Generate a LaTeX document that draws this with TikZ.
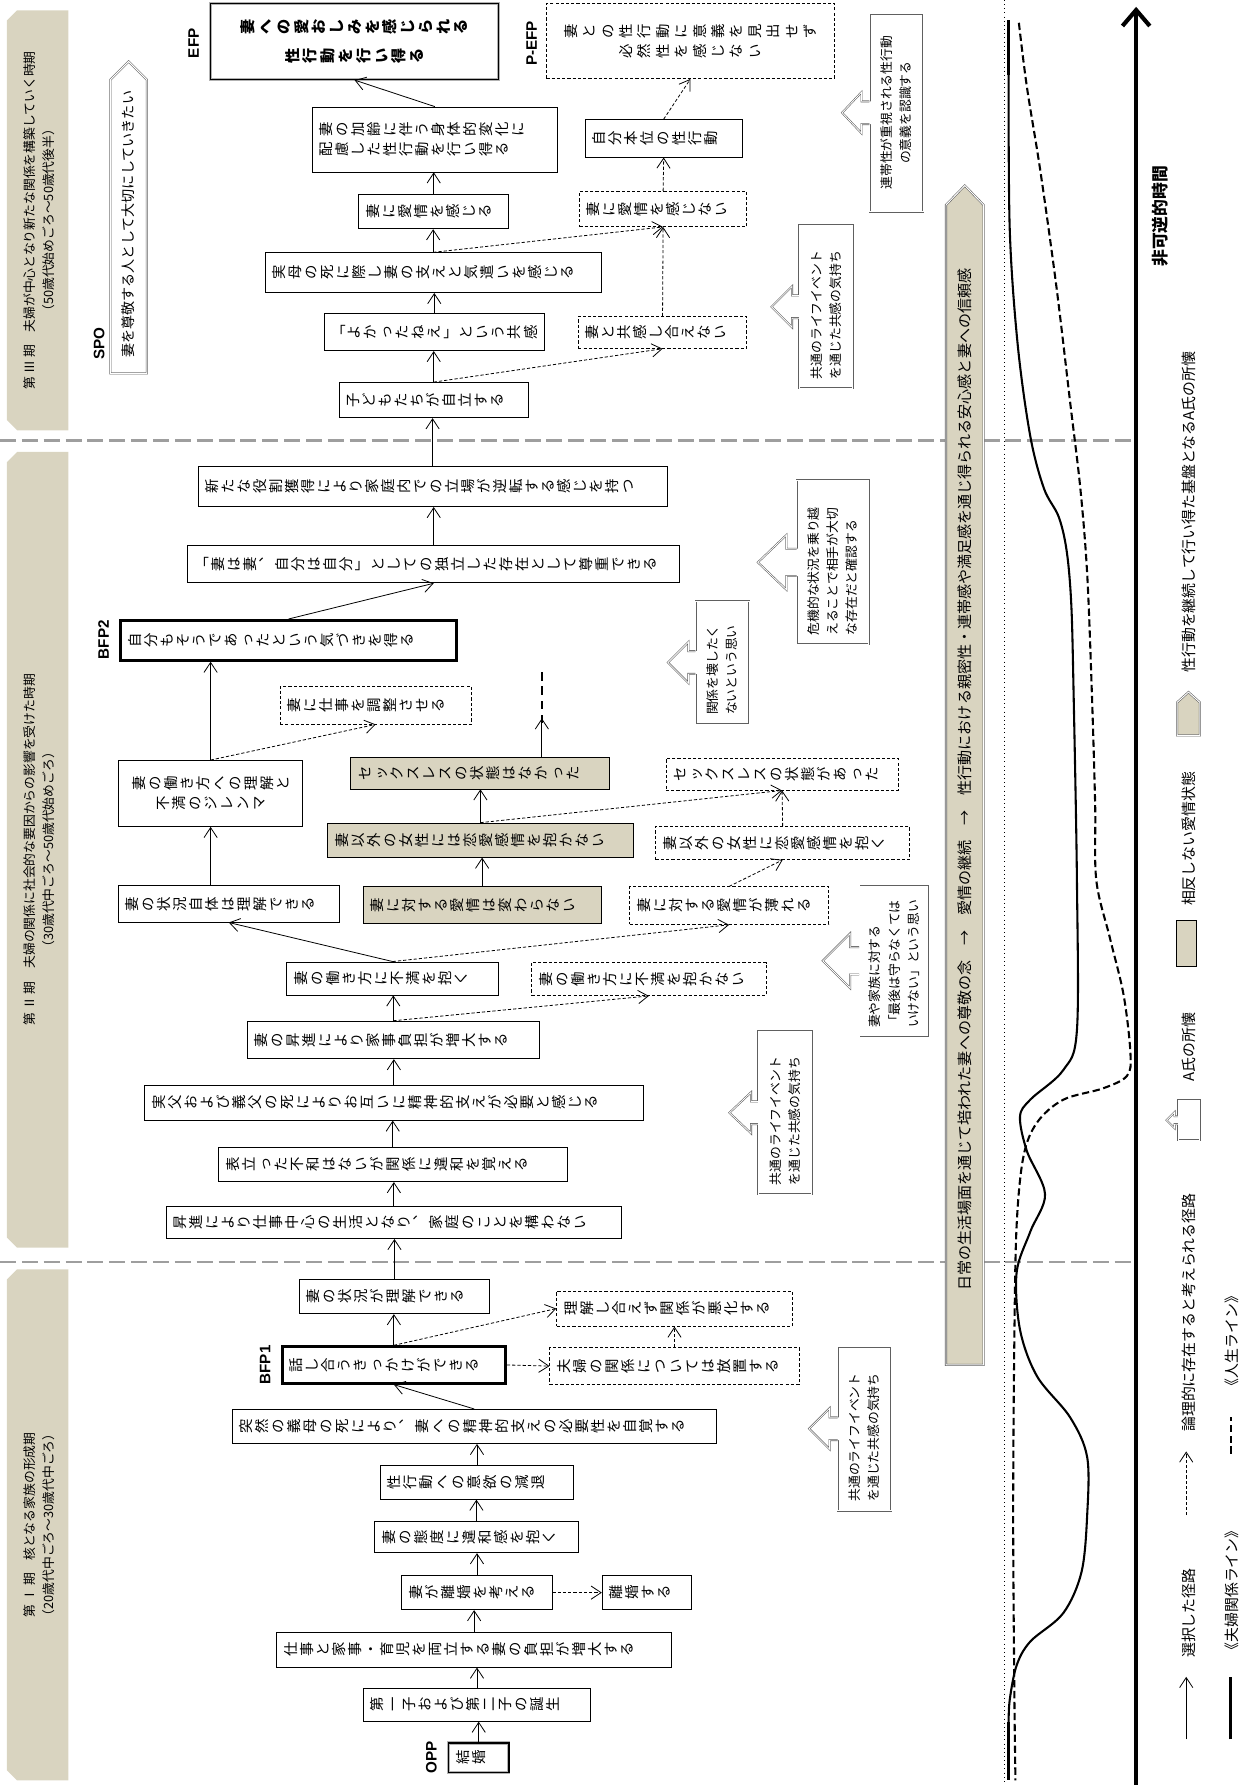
\documentclass[tikz,border=0pt]{standalone}
\usepackage{fontspec}
\setmainfont{Noto Sans CJK JP}
\newfontfamily\labfont{Liberation Sans}
\usepackage{graphicx}
\usetikzlibrary{arrows.meta}

\definecolor{beige}{RGB}{217,212,192}
\definecolor{sepgray}{RGB}{158,158,158}

% vertical writing, page turned: every letter turned a quarter left
\newlength\tategap
\setlength\tategap{1pt}
\ExplSyntaxOn
\tl_const:Nn \c_tate_upright_tl {「」}
\NewDocumentCommand\tate{m}
  {
    \mbox
      {
        \tl_map_inline:nn {#1}
          {
            \tl_if_in:NnTF \c_tate_upright_tl {##1}
              { \makebox[1em][c]{##1} }
              { \rotatebox[origin=c]{90}{\makebox[1em][c]{\rule[-0.12em]{0pt}{1em}##1}} }
            \hspace{\tategap}
          }
        \hspace{-\tategap}
      }
  }
\ExplSyntaxOff

\newcommand\boxfont{\fontsize{9}{12.5}\selectfont\setlength\tategap{1pt}}
\newcommand\efpfont{\fontsize{9.5}{17.8}\selectfont\bfseries\setlength\tategap{1.6pt}}
\newcommand\pefpfont{\fontsize{9}{12.5}\selectfont\setlength\tategap{2.5pt}}

% arrow of a callout (shokai), drawn on the page-left side of a turned node
\newcommand\shokai[5]{% node, head half, stem half, head length, stem length
  \fill[white] (#1.north) ++(3,-#3) -- ++(-3-#5,0) -- ++(0,-#2+#3)
    -- ++(-#4,#2) -- ++(#4,#2) -- ++(0,-#2+#3) -- ++(3+#5,0) -- cycle;
  \draw[shokailine] (#1.north) ++(0,-#3) -- ++(-#5,0) -- ++(0,-#2+#3)
    -- ++(-#4,#2) -- ++(#4,#2) -- ++(0,-#2+#3) -- ++(#5,0);
}

\tikzset{
  box/.style={draw, line width=0.5pt, inner xsep=1.5mm, inner ysep=0pt, align=left, font=\boxfont},
  pbox/.style={box, dash pattern=on 0.7mm off 0.45mm},
  gbox/.style={box, fill=beige},
  bfpbox/.style={box, line width=1.8pt},
  efpbox/.style={box, draw=gray!60, double=black, double distance=0.9pt, line width=0.55pt},
  bw/.code={\pgfmathsetlengthmacro\bwtmp{#1*0.25mm-3mm}\edef\bwdo{\noexpand\tikzset{text width=\bwtmp}}\bwdo},
  cw/.code={\pgfmathsetlengthmacro\cwtmp{#1*0.25mm-4mm}\edef\cwdo{\noexpand\tikzset{text width=\cwtmp}}\cwdo},
  bh/.code={\pgfmathsetlengthmacro\bhtmp{#1*0.25mm}\edef\bhdo{\noexpand\tikzset{minimum height=\bhtmp}}\bhdo},
  sel/.style={-{Straight Barb[length=2.2mm,width=2.9mm]}, line width=0.5pt},
  maybe/.style={sel, dash pattern=on 0.7mm off 0.45mm},
  lab/.style={rotate=90, inner sep=0pt, font=\labfont\bfseries\fontsize{9.5}{11}\selectfont},
  rtext/.style={rotate=90, inner sep=0pt, align=center},
  shokaibox/.style={rotate=90, draw=gray!75!black, double, double distance=0.5pt, line width=0.35pt,
    fill=white, inner xsep=2mm, inner ysep=0pt, align=left, font=\fontsize{8}{12}\selectfont},
  shokailine/.style={draw=gray!75!black, double, double distance=0.5pt, line width=0.35pt},
  penta/.style={draw=gray!75!black, double, double distance=0.6pt, line width=0.35pt},
  periodsep/.style={sepgray, line width=1.5pt, dash pattern=on 3.5mm off 1.3mm},
  kline/.style={line width=1.3pt},
  jline/.style={line width=1.3pt, dash pattern=on 1.6mm off 0.8mm},
  timeaxis/.style={line width=2.6pt, -{Straight Barb[length=3.5mm,width=6mm]}},
  legfont/.style={font=\fontsize{9.3}{11}\selectfont}
}

\begin{document}
\begin{tikzpicture}[x=0.25mm, y=-0.25mm]
\useasboundingbox (0,0) rectangle (1092,1568);

% period tabs
\fill[beige] (6,18) -- (15,9) -- (60,9) -- (60,378) -- (15,378) -- (6,369) -- cycle;
\fill[beige] (6,406) -- (15,397) -- (60,397) -- (60,1096) -- (15,1096) -- (6,1087) -- cycle;
\fill[beige] (6,1124) -- (15,1115) -- (60,1115) -- (60,1564) -- (15,1564) -- (6,1555) -- cycle;
\node[rtext, font=\fontsize{8}{12}\selectfont] (periodthree) at (34.5,193.5) {第 Ⅲ 期　夫婦が中心となり新たな関係を構築していく時期\\（50歳代始めごろ～50歳代後半）};
\node[rtext, font=\fontsize{8}{12}\selectfont] (periodtwo) at (34.5,746.5) {第 Ⅱ 期　夫婦の関係に社会的な要因からの影響を受けた時期\\（30歳代中ごろ～50歳代始めごろ）};
\node[rtext, font=\fontsize{8}{12}\selectfont] (periodone) at (34.5,1339.5) {第 Ⅰ 期　核となる家族の形成期\\（20歳代中ごろ～30歳代中ごろ）};

\draw[periodsep] (0,387) -- (998,387);
\draw[periodsep] (0,1108.6) -- (998,1108.6);

% lines of the couple and of life
\draw[dotted, line width=0.6pt] (882,0) -- (882,1568);
\draw[kline] plot[smooth, tension=0.55] coordinates {(886,66) (887,202) (894,303) (905,383) (917,429) (930,454) (937,484) (941,530) (943,605) (946,773) (946,905) (934,940) (905,966) (896,981) (902,1011) (918,1049) (905,1082) (893,1118) (896,1168) (911,1209) (940,1245) (955,1280) (955,1331) (950,1381) (934,1417) (905,1442) (893,1463) (887,1493) (886,1513)};
\draw[line width=2.2pt] (886,18) -- (886,66);
\draw[line width=2.2pt] (886,1513) -- (886,1564);
\draw[jline] plot[smooth, tension=0.55] coordinates {(895,20) (902,76) (914,151) (928,252) (940,353) (949,429) (955,504) (959,605) (962,706) (963,773) (975,824) (987,874) (993,925) (990,945) (969,956) (934,966) (911,986) (899,1016) (893,1077) (891,1179) (890,1331) (891,1483) (892,1564)};

\coordinate (axisbot) at (998,1568);
\coordinate (axistop) at (998,6);
\draw[timeaxis] (axisbot) -- (axistop);
\node[rtext, font=\fontsize{10.5}{12}\selectfont\bfseries] (timelabel) at (1019,190) {非可逆的時間};

% banner
\draw[penta, fill=beige] (831,1199) -- (831,180) -- (847.5,163) -- (864,180) -- (864,1199) -- cycle;
\node[rtext, font=\fontsize{9.4}{11}\selectfont] (bannertext) at (847.5,685) {日常の生活場面を通じて培われた妻への尊敬の念　→　愛情の継続　→　性行動における親密性・連帯感や満足感を通じ得られる安心感と妻への信頼感};

% SPO
\draw[penta, fill=white] (97,328) -- (97,70) -- (113,54) -- (129,70) -- (129,328) -- cycle;
\node[rtext, font=\fontsize{8.8}{11}\selectfont] (spotext) at (113,197) {妻を尊敬する人として大切にしていきたい};

% period I
\node[efpbox, bw=53, bh=26] (kekkon) at (420.5,1544) {\tate{結婚}};
\node[box, bw=200, bh=29] (daiichi) at (419,1497.5) {\tate{第一子および第二子の誕生}};
\node[box, bw=347, bh=31] (shigoto) at (416.5,1449) {\tate{仕事と家事・育児を両立する妻の負担が増大する}};
\node[box, bw=132, bh=30] (kangae) at (419,1399) {\tate{妻が離婚を考える}};
\node[box, bw=78, bh=30] (rikon) at (568,1399) {\tate{離婚する}};
\node[box, bw=179, bh=28] (taido) at (418.5,1350) {\tate{妻の態度に違和感を抱く}};
\node[box, bw=170, bh=30] (iyoku) at (419,1302) {\tate{性行動への意欲の減退}};
\node[box, bw=425, bh=30] (totsuzen) at (416.5,1253) {\tate{突然の義母の死により︑妻への精神的支えの必要性を自覚する}};
\node[bfpbox, bw=196, bh=32] (bfpone) at (346,1199) {\tate{話し合うきっかけができる}};
\node[pbox, bw=219, bh=32] (houchi) at (592.5,1200) {\tate{夫婦の関係については放置する}};
\node[pbox, bw=207, bh=31] (akka) at (592.5,1149.5) {\tate{理解し合えず関係が悪化する}};
\node[box, bw=167, bh=30] (rikai) at (346.5,1139) {\tate{妻の状況が理解できる}};

% period II
\node[box, bw=400, bh=28] (shoushin) at (346,1074) {\tate{昇進により仕事中心の生活となり︑家庭のことを構わない}};
\node[box, bw=306, bh=30] (omote) at (345,1023) {\tate{表立った不和はないが関係に違和を覚える}};
\node[box, bw=438, bh=31] (jippu) at (346,968.5) {\tate{実父および義父の死によりお互いに精神的支えが必要と感じる}};
\node[box, bw=257, bh=33] (tshoushin) at (345.5,913.5) {\tate{妻の昇進により家事負担が増大する}};
\node[box, bw=186, bh=29] (fuman) at (345,859.5) {\tate{妻の働き方に不満を抱く}};
\node[pbox, bw=206, bh=29] (fumannai) at (570,860) {\tate{妻の働き方に不満を抱かない}};
\node[box, bw=194, bh=32] (jikyou) at (201,794) {\tate{妻の状況自体は理解できる}};
\node[gbox, bw=209, bh=32] (kawaranai) at (423.5,795) {\tate{妻に対する愛情は変わらない}};
\node[pbox, bw=175, bh=33] (usureru) at (640.5,795.5) {\tate{妻に対する愛情が薄れる}};
\node[gbox, bw=268, bh=30] (igainai) at (422,738) {\tate{妻以外の女性には恋愛感情を抱かない}};
\node[pbox, bw=223, bh=29] (igaiaru) at (687.5,740.5) {\tate{妻以外の女性に恋愛感情を抱く}};
\node[box, bw=162, bh=58, align=center] (jirenma) at (185,697) {\tate{妻の働き方への理解と}\\\tate{不満のジレンマ}};
\node[gbox, bw=227, bh=28] (nakatta) at (421.5,679) {\tate{セックスレスの状態はなかった}};
\node[pbox, bw=204, bh=28] (atta) at (687,680) {\tate{セックスレスの状態があった}};
\node[pbox, bw=168, bh=33] (chousei) at (330,619.5) {\tate{妻に仕事を調整させる}};
\node[bfpbox, bw=295, bh=35] (bfptwo) at (253.5,562.5) {\tate{自分もそうであったという気づきを得る}};
\node[box, bw=432, bh=33] (dokuritsu) at (381,495.5) {\tate{「妻は妻︑自分は自分」としての独立した存在として尊重できる}};
\node[box, bw=412, bh=35] (aratana) at (380,427.5) {\tate{新たな役割獲得により家庭内での立場が逆転する感じを持つ}};

% period III
\node[box, bw=166, bh=31] (jiritsu) at (381,351.5) {\tate{子どもたちが自立する}};
\node[box, bw=193, bh=33] (yokatta) at (381.5,291.5) {\tate{「よかったねえ」という共感}};
\node[box, bw=295, bh=35] (jitsubo) at (380.5,239.5) {\tate{実母の死に際し妻の支えと気遣いを感じる}};
\node[box, bw=132, bh=30] (aijou) at (381,186) {\tate{妻に愛情を感じる}};
\node[box, bw=216, bh=57] (karei) at (382,122.5) {\tate{妻の加齢に伴う身体的変化に}\\\tate{配慮した性行動を行い得る}};
\node[efpbox, bw=253, bh=67, align=center, font=\efpfont] (efp) at (311.5,36.5) {\tate{妻への愛おしみを感じられる}\\\tate{性行動を行い得る}};
\node[pbox, bw=148, bh=28] (kyoukannai) at (582,292) {\tate{妻と共感し合えない}};
\node[pbox, bw=147, bh=31] (aijounai) at (582.5,183.5) {\tate{妻に愛情を感じない}};
\node[box, bw=138, bh=33] (jibun) at (583,121.5) {\tate{自分本位の性行動}};
\node[pbox, bw=253, bh=66, align=center, font=\pefpfont] (pefp) at (606.5,36) {\tate{妻との性行動に意義を見出せず}\\\tate{必然性を感じない}};

% labels
\node[lab] (opp) at (379,1544) {OPP};
\node[lab] (bfponelab) at (233,1199) {BFP1};
\node[lab] (bfptwolab) at (91,562) {BFP2};
\node[lab] (spolab) at (87,302) {SPO};
\node[lab] (efplab) at (170,38) {EFP};
\node[lab] (pefplab) at (467,38) {P-EFP};

% Connections
%% period I
\draw[sel] (kekkon.north) -- (kekkon.north |- daiichi.south);
\draw[sel] (daiichi.north) -- (daiichi.north |- shigoto.south);
\draw[sel] (shigoto.north) -- (shigoto.north |- kangae.south);
\draw[sel] (kangae.north) -- (kangae.north |- taido.south);
\draw[sel] (taido.north) -- (taido.north |- iyoku.south);
\draw[sel] (iyoku.north) -- (iyoku.north |- totsuzen.south);
\draw[sel] (totsuzen.north) -- (bfpone.south);
\draw[sel] (bfpone.north) -- (bfpone.north |- rikai.south);
\draw[sel] (rikai.north) -- (rikai.north |- shoushin.south);
\draw[maybe] (kangae.east) -- (rikon.west);
\draw[maybe] (bfpone.east) -- (houchi.west);
\draw[maybe] (bfpone.north) -- (akka.west);
\draw[maybe] (houchi.north) -- (akka.south);
%% period II
\draw[sel] (shoushin.north) -- (shoushin.north |- omote.south);
\draw[sel] (omote.north) -- (omote.north |- jippu.south);
\draw[sel] (jippu.north) -- (jippu.north |- tshoushin.south);
\draw[sel] (tshoushin.north) -- (tshoushin.north |- fuman.south);
\draw[sel] (fuman.north) -- (jikyou.south);
\draw[sel] (jirenma.south |- jikyou.north) -- (jirenma.south);
\draw[sel] (jirenma.north) -- (jirenma.north |- bfptwo.south);
\draw[sel] (bfptwo.north) -- (dokuritsu.south);
\draw[sel] (dokuritsu.north) -- (dokuritsu.north |- aratana.south);
\draw[sel] (aratana.north) -- (aratana.north |- jiritsu.south);
\draw[maybe] (tshoushin.north) -- (fumannai.south);
\draw[maybe] (fuman.north) -- (usureru.south);
\draw[maybe] (usureru.north) -- (igaiaru.south);
\draw[maybe] (igaiaru.north) -- (atta.south);
\draw[maybe] (igainai.north) -- (atta.south);
\draw[maybe] (jirenma.north) -- (chousei.south);
\draw[sel] (kawaranai.north) -- (kawaranai.north |- igainai.south);
\draw[sel] (igainai.north) -- (igainai.north |- nakatta.south);
\coordinate (contA) at (476,631);
\coordinate (contB) at (476,590);
\draw[sel] (contA |- nakatta.north) -- (contA);
\draw[line width=0.8pt, dash pattern=on 1.8mm off 1.3mm] ([yshift=-1mm]contA) -- (contB);
%% period III
\draw[sel] (jiritsu.north) -- (jiritsu.north |- yokatta.south);
\draw[sel] (yokatta.north) -- (yokatta.north |- jitsubo.south);
\draw[sel] (jitsubo.north) -- (jitsubo.north |- aijou.south);
\draw[sel] (aijou.north) -- (aijou.north |- karei.south);
\draw[sel] (karei.north) -- (efp.south);
\draw[maybe] (jiritsu.north) -- (kyoukannai.south);
\draw[maybe] (jitsubo.north) -- (aijounai.south);
\draw[maybe] (kyoukannai.north) -- (aijounai.south);
\draw[maybe] (aijounai.north) -- (jibun.south);
\draw[maybe] (jibun.north) -- (pefp.south);

% callouts
\node[shokaibox, cw=174, bh=47, align=center] (renta) at (787.5,99) {連帯性が重視される性行動\\の意義を認識する};
\shokai{renta}{18}{10}{17}{7}
\node[shokaibox, cw=143, bh=47] (kyotsuthree) at (725.5,269.5) {共通のライフイベント\\を通じた共感の気持ち};
\shokai{kyotsuthree}{18}{10}{18}{6}
\node[shokaibox, cw=144, bh=63] (kiki) at (731.5,494) {危機的な状況を乗り越\\えることで相手が大切\\な存在だと確認する};
\shokai{kiki}{24}{12}{25}{9}
\node[shokaibox, cw=108, bh=47] (kowasu) at (634.5,582) {関係を壊したく\\ないという思い};
\shokai{kowasu}{18}{10}{18}{6}
\node[shokaibox, cw=134, bh=61] (kazoku) at (785.5,844) {妻や家族に対する\\「最後は守らなくては\\いけない」という思い};
\shokai{kazoku}{24}{12}{24}{8}
\node[shokaibox, cw=143, bh=47] (kyotsutwo) at (689.5,977.5) {共通のライフイベント\\を通じた共感の気持ち};
\shokai{kyotsutwo}{18}{10}{19}{6}
\node[shokaibox, cw=144, bh=47] (kyotsuone) at (759.5,1255) {共通のライフイベント\\を通じた共感の気持ち};
\shokai{kyotsuone}{18}{10}{18}{7}

% legend
\coordinate (legselA) at (1042,1528);
\coordinate (legselB) at (1042,1473);
\draw[sel] (legselA) -- (legselB);
\node[rtext, legfont] (legsel) at (1044,1417) {選択した径路};
\coordinate (legmayA) at (1042,1331);
\coordinate (legmayB) at (1042,1275);
\draw[maybe] (legmayA) -- (legmayB);
\node[rtext, legfont] (legmay) at (1044,1153) {論理的に存在すると考えられる径路};
\node[shokaibox, minimum width=8.75mm, minimum height=4.75mm, inner sep=0pt] (iconA) at (1044.5,984) {};
\shokai{iconA}{7}{3.5}{7}{3}
\node[rtext, legfont] (legshokai) at (1044,920) {A氏の所懐};
\node[draw, fill=beige, line width=0.5pt, minimum width=4.4mm, minimum height=10.1mm, inner sep=0pt] (iconG) at (1042.5,828.5) {};
\node[rtext, legfont] (leggrey) at (1044,737) {相反しない愛情状態};
\draw[penta, fill=beige] (1034,646) -- (1034,617) -- (1044,608) -- (1054,617) -- (1054,646) -- cycle;
\node[rtext, legfont] (legbase) at (1044,450) {性行動を継続して行い得た基盤となるA氏の所懐};
\coordinate (legkA) at (1081,1528);
\coordinate (legkB) at (1081,1473);
\draw[line width=1.5pt] (legkA) -- (legkB);
\node[rtext, legfont] (legk) at (1082,1397) {《夫婦関係ライン》};
\coordinate (legjA) at (1081,1277);
\coordinate (legjB) at (1081,1245);
\draw[jline] (legjA) -- (legjB);
\node[rtext, legfont] (legj) at (1082,1178) {《人生ライン》};
\end{tikzpicture}
\end{document}
